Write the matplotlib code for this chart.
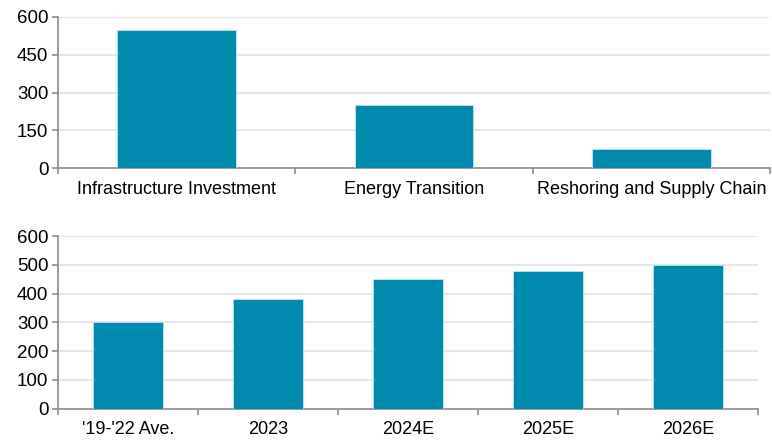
import numpy as np
import matplotlib.pyplot as plt

plt.rcParams['font.family'] = ['Liberation Sans', 'DejaVu Sans']

# top panel
top_cats = ['Infrastructure Investment', 'Energy Transition', 'Reshoring and Supply Chain']
top_vals = [550, 250, 75]
top_ticks = [0, 150, 300, 450, 600]

# bottom panel
bot_cats = ["'19-'22 Ave.", '2023', '2024E', '2025E', '2026E']
bot_vals = [300, 380, 450, 480, 500]
bot_ticks = [0, 100, 200, 300, 400, 500, 600]

bar_color = '#008AB0'
axis_color = '#8c8c8c'
grid_color = '#e6e6e6'

fig = plt.figure(figsize=(7.72, 4.40), dpi=100)
ax1 = fig.add_axes([0.0751, 0.618, 0.9223, 0.3434])
ax2 = fig.add_axes([0.0751, 0.0711, 0.9068, 0.3925])


def style(ax, cats, vals, ticks):
    x = np.arange(len(cats))
    ax.bar(x, vals, width=0.5, color=bar_color, edgecolor='#bfe6f2', linewidth=0.6, zorder=3)
    ax.set_xlim(-0.5, len(cats) - 0.5)
    ax.set_ylim(0, ticks[-1])
    ax.set_yticks(ticks)
    ax.set_xticks(x)
    ax.set_xticklabels(cats)
    ax.set_xticks(np.arange(len(cats) + 1) - 0.5, minor=True)
    ax.tick_params(axis='x', which='major', length=0, pad=9, labelsize=13)
    ax.tick_params(axis='x', which='minor', length=4, color=axis_color, width=1.2)
    ax.tick_params(axis='y', length=4, color=axis_color, width=1.2, labelsize=13.5, pad=3)
    ax.grid(axis='y', color=grid_color, linewidth=1.5, zorder=0)
    for s in ['top', 'right']:
        ax.spines[s].set_visible(False)
    for s in ['left', 'bottom']:
        ax.spines[s].set_color(axis_color)
        ax.spines[s].set_linewidth(1.2)
    ax.set_axisbelow(True)


style(ax1, top_cats, top_vals, top_ticks)
style(ax2, bot_cats, bot_vals, bot_ticks)

plt.savefig('out.png', dpi=100)
